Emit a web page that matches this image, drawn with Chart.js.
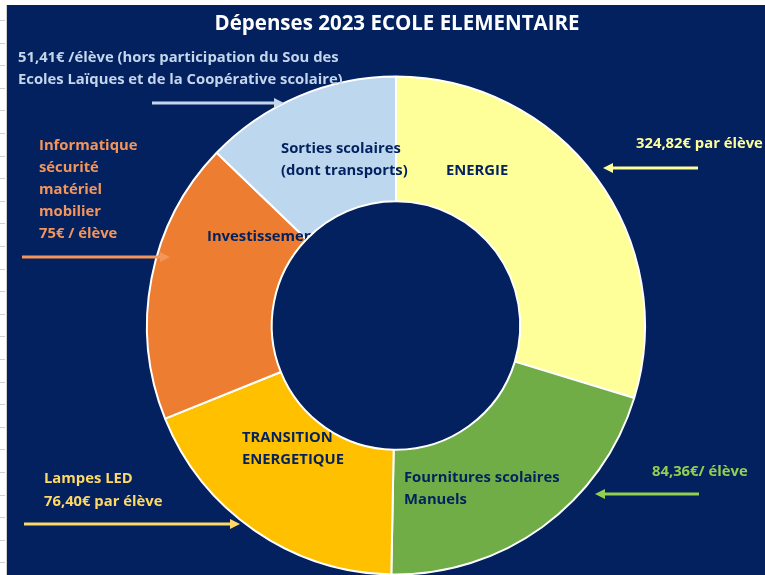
<!DOCTYPE html>
<html>
<head>
<meta charset="utf-8">
<script src="https://cdn.jsdelivr.net/npm/chart.js@4.4.0/dist/chart.umd.min.js"></script>
<style>
    html, body { margin: 0; padding: 0; background: #ffffff; }
    #depensesChart { display: block; }
</style>
</head>
<body>
<canvas id="depensesChart" width="765" height="575"></canvas>
<script>
// Slices, clockwise from the top
const categories = [
    ['ENERGIE'],
    ['Fournitures scolaires', 'Manuels'],
    ['TRANSITION', 'ENERGETIQUE'],
    ['Investissement'],
    ['Sorties scolaires', '(dont transports)']
];
// share of the ring (%)
const shares = [29.7, 20.6, 18.6, 18.3, 12.8];
// notes written next to each slice
const notes = [
    ['324,82€ par élève'],
    ['84,36€/ élève'],
    ['Lampes LED', '76,40€ par élève'],
    ['Informatique', 'sécurité', 'matériel', 'mobilier', '75€ / élève'],
    ['51,41€ /élève (hors participation du Sou des', 'Ecoles Laïques et de la Coopérative scolaire)']
];
const chartTitle = 'Dépenses 2023 ECOLE ELEMENTAIRE';

const sliceColors = ['#FFFF99', '#70AD47', '#FFC000', '#ED7D31', '#BDD7EE'];
const noteColors = ['#FFFF99', '#92D050', '#FFD966', '#F4955A', '#C3D6EC'];
const NAVY = '#03215F';
const FONT = '"Open Sans", Lato, sans-serif';

// where the texts go (left edge, middle of first line)
const labelPos = [[446, 171], [404, 478], [242, 438], [207, 237], [281, 149]];
const notePos = [[636, 144], [652, 472], [44, 479], [39, 146], [18, 58]];
const noteLine = [22, 22, 23, 22, 22];
// arrows: from -> tip
const arrows = [
    [698, 168, 603, 168],
    [699, 494, 595, 494],
    [24, 524, 240, 524],
    [22, 257, 170, 257],
    [152, 103, 284, 103]
];

function drawArrow(ctx, x1, y1, x2, y2, color) {
    const ang = Math.atan2(y2 - y1, x2 - x1);
    const head = 10;
    ctx.save();
    ctx.strokeStyle = color;
    ctx.fillStyle = color;
    ctx.lineWidth = 3;
    ctx.beginPath();
    ctx.moveTo(x1, y1);
    ctx.lineTo(x2 - head * Math.cos(ang) * 0.8, y2 - head * Math.sin(ang) * 0.8);
    ctx.stroke();
    ctx.beginPath();
    ctx.moveTo(x2, y2);
    ctx.lineTo(x2 - head * Math.cos(ang) + 5 * Math.sin(ang), y2 - head * Math.sin(ang) - 5 * Math.cos(ang));
    ctx.lineTo(x2 - head * Math.cos(ang) - 5 * Math.sin(ang), y2 - head * Math.sin(ang) + 5 * Math.cos(ang));
    ctx.closePath();
    ctx.fill();
    ctx.restore();
}

const backgroundPlugin = {
    id: 'sheetBackground',
    beforeDraw(chart) {
        const ctx = chart.ctx;
        ctx.save();
        ctx.fillStyle = '#ffffff';
        ctx.fillRect(0, 0, chart.width, chart.height);
        ctx.fillStyle = NAVY;
        ctx.fillRect(7, 5, chart.width - 7, chart.height - 5);
        // excel row marks on the left edge
        ctx.strokeStyle = '#d0d0d0';
        ctx.lineWidth = 1;
        ctx.beginPath();
        ctx.moveTo(6.5, 5);
        ctx.lineTo(6.5, chart.height);
        for (let y = 20; y < chart.height; y += 22.6) {
            ctx.moveTo(0, Math.round(y) + 0.5);
            ctx.lineTo(5, Math.round(y) + 0.5);
        }
        ctx.stroke();
        ctx.restore();
    }
};

const textPlugin = {
    id: 'sliceTexts',
    afterDatasetsDraw(chart) {
        const ctx = chart.ctx;
        const arc = chart.getDatasetMeta(0).data[0];

        // title
        ctx.save();
        ctx.fillStyle = '#ffffff';
        ctx.font = 'bold 20.5px ' + FONT;
        ctx.textAlign = 'center';
        ctx.textBaseline = 'middle';
        ctx.fillText(chartTitle, 397, 24);
        ctx.restore();

        // slice labels, hidden by the hole
        ctx.save();
        ctx.beginPath();
        ctx.rect(0, 0, chart.width, chart.height);
        ctx.arc(arc.x, arc.y, arc.innerRadius + 1, 0, Math.PI * 2);
        ctx.clip('evenodd');
        ctx.fillStyle = NAVY;
        ctx.font = 'bold 14.8px ' + FONT;
        ctx.textBaseline = 'middle';
        chart.data.labels.forEach((lines, i) => {
            lines.forEach((t, j) => ctx.fillText(t, labelPos[i][0], labelPos[i][1] + j * 22));
        });
        ctx.restore();

        // notes and arrows
        ctx.save();
        ctx.font = 'bold 14.8px ' + FONT;
        ctx.textBaseline = 'middle';
        notes.forEach((lines, i) => {
            ctx.fillStyle = noteColors[i];
            lines.forEach((t, j) => ctx.fillText(t, notePos[i][0], notePos[i][1] + j * noteLine[i]));
            const a = arrows[i];
            drawArrow(ctx, a[0], a[1], a[2], a[3], noteColors[i]);
        });
        ctx.restore();
    }
};

new Chart(document.getElementById('depensesChart'), {
    type: 'doughnut',
    data: {
        labels: categories,
        datasets: [{
            data: shares,
            backgroundColor: sliceColors,
            borderColor: '#ffffff',
            borderWidth: 2
        }]
    },
    options: {
        responsive: false,
        animation: false,
        radius: 249,
        cutout: 124,
        layout: { padding: { left: 146, right: 119, top: 76, bottom: 0 } },
        plugins: {
            legend: { display: false },
            tooltip: { enabled: false }
        }
    },
    plugins: [backgroundPlugin, textPlugin]
});
</script>
</body>
</html>
